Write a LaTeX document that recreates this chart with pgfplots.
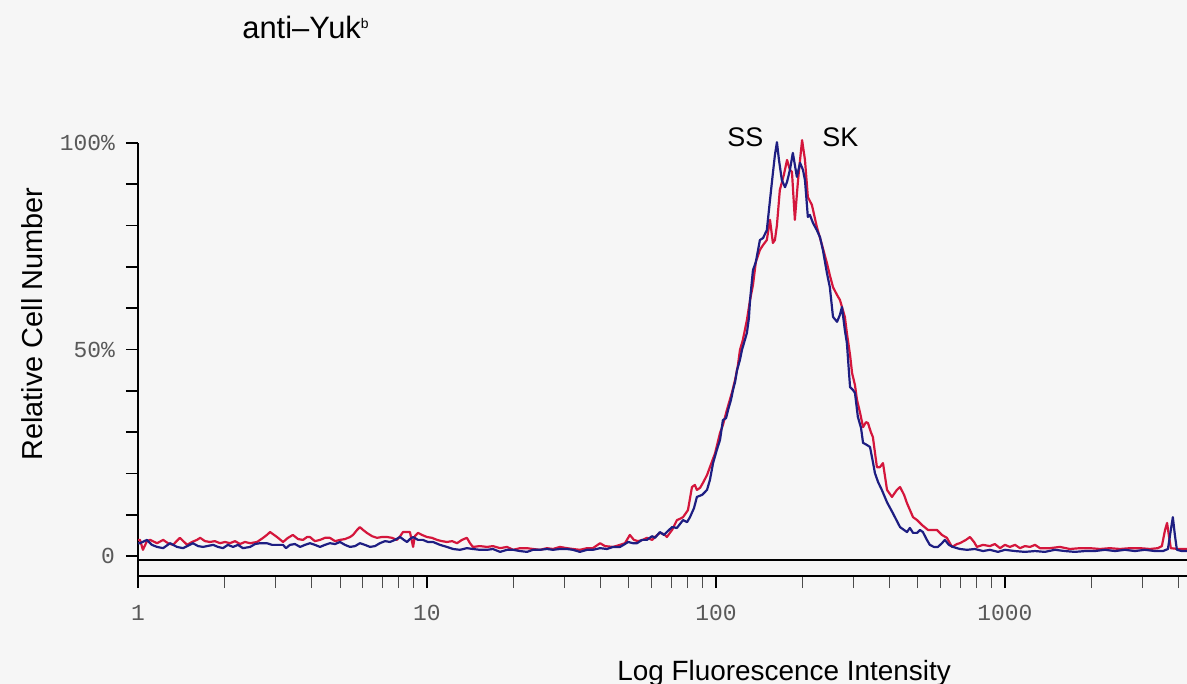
\documentclass[border=0pt]{standalone}
\usepackage{pgfplots}
\pgfplotsset{compat=1.18}
\usepackage{fontspec}
\setmainfont{Liberation Sans}
\newfontfamily\tickfont{Liberation Mono}
\definecolor{facsblue}{HTML}{1E1E82}
\definecolor{facsred}{HTML}{D4163C}
\definecolor{paper}{HTML}{F6F6F6}

% x = log10 of the fluorescence intensity, y = relative cell number (%)
\pgfplotstableread{
x y
0.000 3.1
0.007 3.1
0.031 3.9
0.048 2.7
0.066 2.2
0.087 1.9
0.111 3.1
0.135 2.2
0.156 1.9
0.190 3.1
0.208 2.4
0.225 2.2
0.260 2.7
0.277 2.2
0.294 1.9
0.311 2.7
0.329 2.2
0.346 2.7
0.363 1.9
0.388 2.2
0.405 2.9
0.422 3.1
0.446 3.1
0.464 2.7
0.502 2.7
0.512 1.9
0.526 2.7
0.543 2.9
0.561 2.2
0.578 2.7
0.595 3.1
0.612 2.7
0.630 2.2
0.647 2.7
0.664 3.1
0.682 2.9
0.699 3.4
0.716 2.7
0.734 2.2
0.751 2.4
0.768 3.1
0.785 2.7
0.803 2.2
0.820 2.4
0.837 3.1
0.855 3.6
0.872 3.4
0.889 3.9
0.907 4.6
0.920 3.9
0.931 3.4
0.941 4.1
0.952 4.6
0.969 3.9
0.986 3.9
1.003 3.4
1.021 3.4
1.045 2.7
1.069 2.2
1.090 1.7
1.114 1.5
1.138 1.9
1.159 1.7
1.183 1.5
1.208 1.5
1.228 1.7
1.253 1.0
1.277 1.5
1.298 1.5
1.322 1.2
1.346 1.0
1.367 1.5
1.391 1.5
1.415 1.7
1.436 1.5
1.460 1.7
1.484 1.7
1.505 1.5
1.529 1.0
1.554 1.5
1.574 1.5
1.599 1.9
1.623 1.7
1.644 2.2
1.668 2.2
1.685 2.9
1.696 3.4
1.713 3.1
1.727 3.1
1.744 3.9
1.761 3.9
1.779 4.8
1.789 4.4
1.806 5.8
1.820 5.1
1.830 5.8
1.848 7.0
1.865 6.8
1.886 8.7
1.900 8.2
1.910 9.4
1.924 11.6
1.934 14.3
1.952 14.8
1.969 16.0
1.979 18.4
1.990 22.5
2.003 25.7
2.014 28.1
2.024 32.9
2.035 33.4
2.042 35.4
2.052 37.8
2.059 40.2
2.066 42.1
2.073 45.0
2.083 47.5
2.090 49.9
2.100 52.3
2.107 54.0
2.114 57.6
2.118 62.0
2.128 69.2
2.138 71.2
2.152 76.5
2.163 77.0
2.176 78.9
2.187 86.2
2.197 92.7
2.204 97.1
2.211 100.2
2.218 95.9
2.228 91.0
2.239 89.3
2.246 90.6
2.256 93.5
2.266 97.6
2.273 94.7
2.280 91.8
2.291 95.2
2.301 93.5
2.308 91.0
2.318 82.1
2.325 82.6
2.336 80.6
2.349 78.9
2.360 77.2
2.370 74.1
2.384 68.5
2.394 65.1
2.405 57.9
2.419 56.7
2.429 58.4
2.436 60.3
2.446 54.7
2.453 51.6
2.464 40.9
2.474 40.2
2.481 39.5
2.491 33.7
2.502 31.0
2.509 27.4
2.522 26.9
2.533 26.4
2.543 22.8
2.550 20.1
2.561 17.9
2.574 16.0
2.592 13.0
2.612 10.4
2.637 7.0
2.661 5.8
2.671 6.8
2.682 5.6
2.696 5.6
2.706 6.3
2.716 5.8
2.730 3.9
2.740 2.7
2.754 2.2
2.768 2.2
2.782 3.1
2.792 3.9
2.806 2.7
2.820 2.2
2.844 1.7
2.869 1.5
2.896 1.7
2.924 1.2
2.948 1.5
2.976 1.0
3.000 1.5
3.035 1.2
3.069 1.0
3.104 1.2
3.138 1.0
3.173 1.5
3.208 1.2
3.242 1.0
3.277 1.2
3.311 1.2
3.346 1.5
3.381 1.2
3.415 1.5
3.450 1.2
3.484 1.5
3.519 1.2
3.547 1.2
3.564 1.7
3.574 6.3
3.581 9.4
3.588 5.1
3.595 1.5
3.612 1.2
3.630 1.2
}\ssdata

\pgfplotstableread{
x y
0.000 3.9
0.007 3.9
0.017 1.5
0.031 3.6
0.042 3.9
0.066 3.1
0.087 3.9
0.104 3.1
0.121 2.7
0.145 4.4
0.170 2.7
0.187 3.4
0.204 3.9
0.215 4.4
0.232 3.6
0.249 3.4
0.266 3.6
0.284 3.1
0.301 3.4
0.318 3.1
0.336 3.6
0.353 2.9
0.370 3.4
0.388 3.1
0.412 3.4
0.433 4.4
0.446 5.1
0.457 5.8
0.471 5.1
0.481 4.6
0.502 3.4
0.519 4.4
0.536 5.1
0.554 4.1
0.571 3.9
0.585 4.6
0.595 4.6
0.612 3.6
0.630 3.9
0.647 4.4
0.664 4.4
0.682 3.6
0.699 3.9
0.716 4.1
0.734 4.6
0.744 5.1
0.758 6.3
0.768 7.0
0.779 6.3
0.792 5.6
0.810 4.8
0.827 4.4
0.844 4.6
0.862 4.6
0.879 4.4
0.896 3.9
0.907 4.8
0.917 5.8
0.941 5.8
0.952 2.2
0.958 4.8
0.969 5.6
0.983 5.1
1.000 4.6
1.017 4.4
1.035 3.9
1.052 3.6
1.069 3.4
1.087 3.6
1.104 3.1
1.121 3.9
1.138 4.4
1.149 3.1
1.159 2.2
1.183 2.4
1.208 2.2
1.228 2.4
1.253 1.9
1.277 2.2
1.298 1.5
1.322 1.9
1.346 1.9
1.367 1.7
1.391 1.5
1.415 1.9
1.436 1.7
1.460 2.2
1.484 1.9
1.505 1.7
1.529 1.5
1.554 1.9
1.574 1.9
1.599 3.1
1.616 2.4
1.644 2.2
1.668 2.7
1.685 3.1
1.702 5.1
1.716 3.9
1.730 3.6
1.747 3.9
1.761 4.4
1.779 3.9
1.792 4.8
1.806 5.6
1.820 5.3
1.830 4.6
1.848 6.3
1.865 8.7
1.875 9.0
1.886 9.4
1.903 11.1
1.917 16.7
1.927 17.2
1.934 16.0
1.945 16.5
1.955 17.7
1.969 19.6
1.979 21.5
1.997 24.9
2.014 29.8
2.024 31.7
2.038 35.4
2.055 39.5
2.066 42.6
2.076 46.2
2.083 49.9
2.093 52.3
2.107 57.1
2.118 62.0
2.128 65.6
2.138 71.2
2.152 74.1
2.163 75.3
2.176 76.5
2.187 81.4
2.197 75.8
2.204 76.5
2.211 80.1
2.221 88.6
2.235 92.3
2.246 95.9
2.256 93.5
2.263 93.0
2.273 81.4
2.284 91.0
2.291 95.9
2.298 100.7
2.308 95.9
2.318 86.9
2.332 85.0
2.349 79.7
2.367 75.3
2.384 70.9
2.394 68.0
2.405 65.1
2.419 63.2
2.429 62.0
2.446 57.9
2.453 54.0
2.464 48.7
2.471 44.3
2.481 41.4
2.488 37.8
2.498 34.9
2.509 31.2
2.519 32.4
2.526 32.2
2.536 30.0
2.543 28.8
2.557 21.5
2.567 21.5
2.578 22.5
2.592 16.0
2.609 14.3
2.626 16.0
2.637 16.7
2.651 14.8
2.661 12.8
2.682 9.4
2.696 8.7
2.713 7.5
2.734 6.3
2.765 6.3
2.782 5.1
2.799 4.4
2.817 2.2
2.834 2.9
2.844 3.1
2.865 3.9
2.879 4.6
2.893 3.4
2.903 2.2
2.924 2.7
2.948 2.4
2.965 2.9
2.983 1.9
3.000 2.7
3.017 2.2
3.035 2.7
3.052 1.9
3.069 2.4
3.087 2.2
3.104 2.7
3.121 1.9
3.156 1.9
3.190 2.2
3.225 1.7
3.260 1.9
3.294 1.9
3.329 1.7
3.363 1.9
3.398 1.7
3.433 1.9
3.467 1.9
3.502 1.7
3.529 1.9
3.543 2.4
3.554 6.3
3.561 8.0
3.567 5.1
3.574 1.9
3.599 1.7
3.630 1.7
}\skdata

\begin{document}
\begin{tikzpicture}
\fill[paper] (0,0) rectangle (593.5bp,342bp);
\useasboundingbox (0,0) rectangle (593.5bp,342bp);
\begin{axis}[
    at={(69bp,54bp)}, anchor=south west,
    scale only axis,
    width=524.5bp, height=216.5bp,
    xmin=0, xmax=3.63,
    ymin=-4.84, ymax=100,
    axis x line=bottom, axis y line=left,
    axis line style={-, line width=0.9pt},
    tick align=outside,
    major tick length=6bp, minor tick length=6bp,
    xtick={0,1,2,3}, xticklabels={1,10,100,1000},
    minor xtick={0.301,0.477,0.602,0.699,0.778,0.845,0.903,0.954,
                 1.301,1.477,1.602,1.699,1.778,1.845,1.903,1.954,
                 2.301,2.477,2.602,2.699,2.778,2.845,2.903,2.954,
                 3.301,3.477,3.602},
    ytick={0,10,...,100},
    yticklabels={0,,,,,50\%,,,,,100\%},
    tick style={black, line width=0.9pt},
    minor tick style={black!70, line width=0.5pt},
    xticklabel style={font=\tickfont\fontsize{11.5}{12}\selectfont, text=black!65, yshift=-5bp},
    yticklabel style={font=\tickfont\fontsize{11.5}{12}\selectfont, text=black!65, xshift=-2bp},
    clip=false,
]
\draw[line width=0.9pt] (axis cs:0,-1) -- (axis cs:3.63,-1);
\addplot[facsred, line width=1.1pt, line join=round, mark=none] table {\skdata};
\addplot[facsblue, line width=1.1pt, line join=round, mark=none] table {\ssdata};
\end{axis}
\node[anchor=base west, font=\fontsize{15.5}{17}\selectfont, inner sep=0pt]
  at (121bp,322.5bp) {anti--Yuk\textsuperscript{\fontsize{7}{8}\selectfont b}};
\node[anchor=base west, font=\fontsize{13.5}{15}\selectfont, inner sep=0pt]
  at (363.5bp,268.5bp) {SS};
\node[anchor=base west, font=\fontsize{13.5}{15}\selectfont, inner sep=0pt]
  at (411bp,268.5bp) {SK};
\node[anchor=base west, font=\fontsize{14}{16}\selectfont, inner sep=0pt]
  at (308.5bp,2bp) {Log Fluorescence Intensity};
\node[anchor=base, rotate=90, font=\fontsize{14.5}{16}\selectfont, inner sep=0pt]
  at (21bp,180bp) {Relative Cell Number};
\end{tikzpicture}
\end{document}
